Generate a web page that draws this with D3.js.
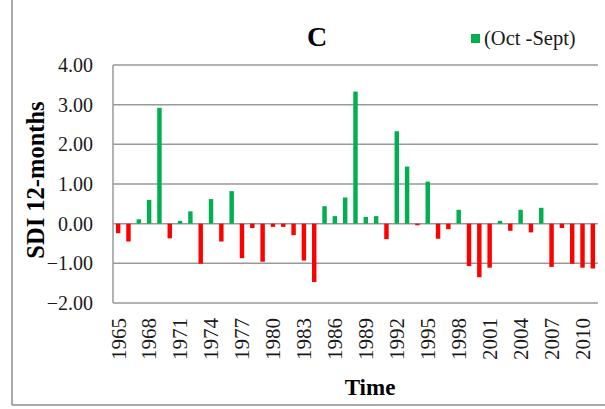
<!DOCTYPE html>
<html>
<head>
<meta charset="utf-8">
<script src="https://cdn.jsdelivr.net/npm/d3@7/dist/d3.min.js"></script>
<style>
  html, body { margin: 0; padding: 0; background: #fff; }
  svg { display: block; font-family: "Liberation Serif", "Times New Roman", serif; }
</style>
</head>
<body>
<svg id="chart" width="605" height="409"></svg>
<script>
// Standardized Discharge Index, 12-month (Oct - Sept) water years
const years = d3.range(1965, 2012);
const sdi = [
  -0.24, -0.45, 0.11, 0.60, 2.92, -0.37, 0.07, 0.31, -1.01, 0.62,
  -0.45, 0.82, -0.87, -0.11, -0.96, -0.08, -0.08, -0.29, -0.93, -1.47,
  0.44, 0.19, 0.66, 3.33, 0.17, 0.19, -0.39, 2.33, 1.44, -0.04,
  1.06, -0.38, -0.14, 0.35, -1.07, -1.35, -1.11, 0.07, -0.18, 0.35,
  -0.22, 0.40, -1.09, -0.11, -1.01, -1.11, -1.13
];
const yTicks = [-2, -1, 0, 1, 2, 3, 4];
const xTickYears = d3.range(1965, 2012, 3);
const legendLabel = "(Oct -Sept)";
const titleText = "C";
const yTitle = "SDI 12-months";
const xTitle = "Time";

const svg = d3.select("#chart");
const plot = { left: 113, right: 598, top: 65, bottom: 303 };

const x = d3.scaleBand()
  .domain(years)
  .range([plot.left, plot.right])
  .paddingInner(0.57)
  .paddingOuter(0.285);

const y = d3.scaleLinear().domain([-2, 4]).range([plot.bottom, plot.top]);

// outer frame
svg.append("line").attr("x1", 12).attr("x2", 12).attr("y1", 0).attr("y2", 405)
  .attr("stroke", "#8c8c8c").attr("stroke-width", 1.5);
svg.append("line").attr("x1", 12).attr("x2", 605).attr("y1", 405).attr("y2", 405)
  .attr("stroke", "#8c8c8c").attr("stroke-width", 1.5);

// horizontal gridlines
svg.append("g").selectAll("line").data(yTicks).join("line")
  .attr("x1", plot.left).attr("x2", plot.right)
  .attr("y1", d => y(d)).attr("y2", d => y(d))
  .attr("stroke", "#999").attr("stroke-width", 1.5);

// value axis line
svg.append("line").attr("x1", plot.left).attr("x2", plot.left)
  .attr("y1", plot.top).attr("y2", plot.bottom)
  .attr("stroke", "#999").attr("stroke-width", 1.5);

// y tick labels
svg.append("g").selectAll("text").data(yTicks).join("text")
  .attr("x", 93).attr("y", d => y(d)).attr("dy", "0.35em")
  .attr("text-anchor", "end").attr("font-size", 20).attr("fill", "#1a1a1a")
  .text(d => d3.format(".2f")(d));

// bars
svg.append("g").selectAll("rect").data(years.map((yr, i) => ({ yr, v: sdi[i] }))).join("rect")
  .attr("x", d => x(d.yr))
  .attr("width", x.bandwidth())
  .attr("y", d => y(Math.max(0, d.v)))
  .attr("height", d => Math.abs(y(d.v) - y(0)))
  .attr("fill", d => d.v >= 0 ? "#00b050" : "#ff0000");

// x tick labels (rotated)
svg.append("g").selectAll("text").data(xTickYears).join("text")
  .attr("transform", d => `translate(${x(d) + x.bandwidth() / 2},318) rotate(-90)`)
  .attr("dy", "0.35em")
  .attr("text-anchor", "end").attr("font-size", 21).attr("fill", "#1a1a1a")
  .text(d => d);

// axis titles
svg.append("text")
  .attr("transform", "translate(35,180) rotate(-90)")
  .attr("dy", "0.35em")
  .attr("text-anchor", "middle").attr("font-size", 24.5).attr("font-weight", "bold")
  .text(yTitle);

svg.append("text")
  .attr("x", 370).attr("y", 395)
  .attr("text-anchor", "middle").attr("font-size", 23).attr("font-weight", "bold")
  .text(xTitle);

// chart title
svg.append("text")
  .attr("x", 317).attr("y", 46)
  .attr("text-anchor", "middle").attr("font-size", 28).attr("font-weight", "bold")
  .text(titleText);

// legend
svg.append("rect").attr("x", 471).attr("y", 34).attr("width", 9).attr("height", 9)
  .attr("fill", "#00b050");
svg.append("text").attr("x", 484).attr("y", 45)
  .attr("font-size", 20.5).attr("fill", "#1a1a1a")
  .text(legendLabel);
</script>
</body>
</html>
